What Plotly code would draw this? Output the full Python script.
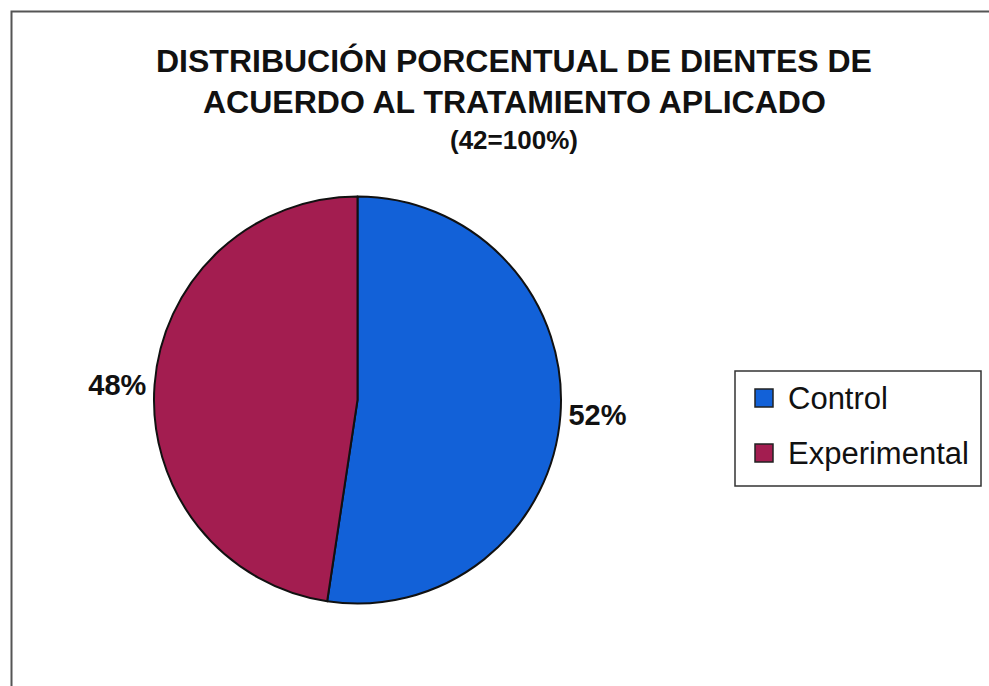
import plotly.graph_objects as go

# Data
categories = ["Control", "Experimental"]
values = [22, 20]  # 42 = 100%
colors = ["#1261d8", "#a31d50"]
title_lines = [
    "DISTRIBUCIÓN PORCENTUAL DE DIENTES DE",
    "ACUERDO AL TRATAMIENTO APLICADO",
    "(42=100%)",
]

W, H = 989, 686

def px(x):
    return x / W

def py(y):
    return 1 - y / H

fig = go.Figure()
fig.add_trace(go.Pie(
    labels=categories,
    values=values,
    sort=False,
    direction="clockwise",
    rotation=0,
    marker=dict(colors=colors, line=dict(color="#111111", width=2)),
    textposition="outside",
    texttemplate="<b>%{percent:.0%}</b>",
    textfont=dict(family="Liberation Sans", size=29, color="#111111"),
    domain=dict(x=[px(154), px(561)], y=[py(604), py(196)]),
    showlegend=False,
    hoverinfo="label+percent",
))

annotations = []
title_y = [61, 102, 140]
title_sz = [32, 32, 26]
for t, yy, sz in zip(title_lines, title_y, title_sz):
    annotations.append(dict(
        x=px(514), y=py(yy), xref="paper", yref="paper",
        text="<b>" + t + "</b>", showarrow=False,
        xanchor="center", yanchor="middle",
        font=dict(family="Liberation Sans", size=sz, color="#111111"),
    ))

shapes = []
# outer chart border (extends past right/bottom edges)
shapes.append(dict(type="rect", xref="paper", yref="paper",
                   x0=px(11.5), x1=1.02, y0=-0.02, y1=py(11.5),
                   line=dict(color="#555555", width=2), fillcolor="rgba(0,0,0,0)"))
# legend box
shapes.append(dict(type="rect", xref="paper", yref="paper",
                   x0=px(735), x1=px(981), y0=py(486), y1=py(371),
                   line=dict(color="#333333", width=1.5), fillcolor="white"))
leg_y = [398, 453]
for cat, col, yy in zip(categories, colors, leg_y):
    shapes.append(dict(type="rect", xref="paper", yref="paper",
                       x0=px(755), x1=px(773), y0=py(yy + 9), y1=py(yy - 9),
                       line=dict(color="#222222", width=1.5), fillcolor=col))
    annotations.append(dict(
        x=px(786), y=py(yy), xref="paper", yref="paper",
        text=cat, showarrow=False, xanchor="left", yanchor="middle",
        font=dict(family="Liberation Sans", size=31, color="#111111"),
    ))

fig.update_layout(
    width=W, height=H,
    margin=dict(l=0, r=0, t=0, b=0),
    paper_bgcolor="white",
    plot_bgcolor="white",
    annotations=annotations,
    shapes=shapes,
)

fig.write_html("out.html")
